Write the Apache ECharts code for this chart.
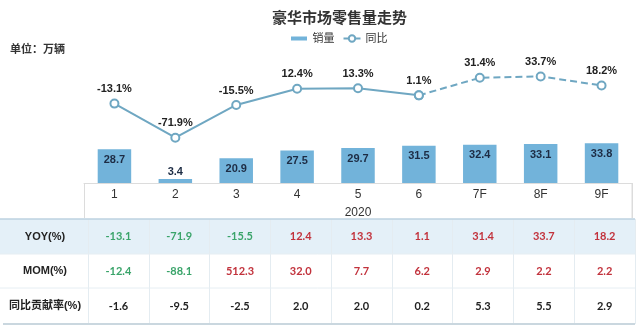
<!DOCTYPE html>
<html>
<head>
<meta charset="utf-8">
<script src="https://cdn.jsdelivr.net/npm/echarts@6/dist/echarts.min.js"></script>
<style>
  html, body { margin: 0; padding: 0; background: #fff; }
  #chart { width: 640px; height: 330px; }
</style>
</head>
<body>
<div id="chart"></div>
<script>
// Months of 2020; 7F-9F are forecasts
const months = ['1', '2', '3', '4', '5', '6', '7F', '8F', '9F'];
const actualCount = 6;
// Retail sales, 10k units
const sales = [28.7, 3.4, 20.9, 27.5, 29.7, 31.5, 32.4, 33.1, 33.8];
// Year-on-year change, %
const yoy = [-13.1, -71.9, -15.5, 12.4, 13.3, 1.1, 31.4, 33.7, 18.2];
// Month-on-month change, %
const mom = [-12.4, -88.1, 512.3, 32.0, 7.7, 6.2, 2.9, 2.2, 2.2];
// Contribution to YoY growth, %
const contrib = [-1.6, -9.5, -2.5, 2.0, 2.0, 0.2, 5.3, 5.5, 2.9];
const rowNames = ['YOY(%)', 'MOM(%)', '同比贡献率(%)'];
const yearLabel = '2020';

const FONT = "'Liberation Sans','Noto Sans CJK SC',sans-serif";
const TFONT = "Lato,'Noto Sans CJK SC',sans-serif";
const BAR = '#72b3da';
const LINE = '#6fa7c2';

const chart = echarts.init(document.getElementById('chart'), null, { renderer: 'canvas' });

const solidYoy = yoy.map((v, i) => (i < actualCount ? v : null));
const dashYoy = yoy.map((v, i) => (i >= actualCount - 1 ? v : null));

// table rows: grid geometry per row
const rows = [
  { values: yoy, colored: true, top: 219, height: 35 },
  { values: mom, colored: true, top: 254, height: 34 },
  { values: contrib, colored: false, top: 288, height: 36 }
];

const signColor = (v) => (v < 0 ? '#3aa46a' : '#c2323c');

const grids = [{ left: 84, right: 8, top: 38, height: 145 }];
const xAxes = [{
  type: 'category',
  gridIndex: 0,
  data: months,
  axisLine: { show: true, lineStyle: { color: '#dcdcdc', width: 1 } },
  axisTick: { show: true, interval: (i) => i === 0, length: 35, lineStyle: { color: '#dcdcdc' } },
  axisLabel: { color: '#333', fontSize: 12, fontFamily: FONT, margin: 6 },
  name: yearLabel,
  nameLocation: 'middle',
  nameGap: 24,
  nameTextStyle: { color: '#333', fontSize: 12, fontFamily: FONT }
}];
const yAxes = [
  { type: 'value', gridIndex: 0, min: 0, max: 123, show: false },
  { type: 'value', gridIndex: 0, min: -150, max: 100, show: false }
];

rows.forEach((r, k) => {
  grids.push({ left: 88, right: 5, top: r.top, height: r.height });
  xAxes.push({
    type: 'category',
    gridIndex: k + 1,
    data: months,
    position: 'bottom',
    axisLine: { show: false },
    axisTick: { show: true, inside: true, length: r.height, lineStyle: { color: '#e4ecf1' } },
    axisLabel: {
      inside: true,
      margin: Math.round(r.height / 2) - 6,
      interval: 0,
      fontSize: 11,
      fontWeight: 'bold',
      fontFamily: TFONT,
      formatter: (v, i) => r.values[i].toFixed(1),
      color: (v, i) => (r.colored ? signColor(r.values[i]) : '#222')
    }
  });
  yAxes.push({
    type: 'category',
    gridIndex: k + 1,
    data: [rowNames[k]],
    axisLine: { show: false },
    axisTick: { show: false },
    axisLabel: {
      align: 'center',
      margin: 43,
      fontSize: 11,
      fontWeight: 'bold',
      color: '#222',
      fontFamily: FONT
    }
  });
});

const option = {
  backgroundColor: '#fff',
  animation: false,
  textStyle: { fontFamily: FONT },
  title: [
    { text: '豪华市场零售量走势', left: 267, top: 6,
      textStyle: { fontSize: 15, fontWeight: 'bold', color: '#333', fontFamily: FONT } },
    { text: '单位：万辆', left: 5, top: 39,
      textStyle: { fontSize: 11, fontWeight: 'bold', color: '#333', fontFamily: FONT } }
  ],
  legend: {
    left: 286,
    top: 28,
    itemWidth: 17,
    itemHeight: 8,
    itemGap: 8,
    textStyle: { fontSize: 11, color: '#333', fontFamily: FONT },
    data: [
      { name: '销量', icon: 'path://M0,0h16v4h-16z M0,-2L0,6' },
      { name: '同比' }
    ]
  },
  graphic: [
    { type: 'rect', z: -10, shape: { x: 0, y: 219, width: 635, height: 35 }, style: { fill: '#e4f0f8' } },
    { type: 'line', z: 10, shape: { x1: 0, y1: 219, x2: 635, y2: 219 }, style: { stroke: '#bcd2e1', lineWidth: 1.5 } },
    { type: 'line', z: 10, shape: { x1: 0, y1: 254, x2: 635, y2: 254 }, style: { stroke: '#e6eef3', lineWidth: 1 } },
    { type: 'line', z: 10, shape: { x1: 0, y1: 288, x2: 635, y2: 288 }, style: { stroke: '#e6eef3', lineWidth: 1 } },
    { type: 'line', z: 10, shape: { x1: 3, y1: 324, x2: 635, y2: 324 }, style: { stroke: '#cad7df', lineWidth: 2 } },
    { type: 'line', z: 10, shape: { x1: 632, y1: 183, x2: 632, y2: 218 }, style: { stroke: '#dcdcdc', lineWidth: 1 } }
  ],
  grid: grids,
  xAxis: xAxes,
  yAxis: yAxes,
  series: [
    {
      name: '销量',
      type: 'bar',
      xAxisIndex: 0,
      yAxisIndex: 0,
      barWidth: '55%',
      itemStyle: { color: BAR },
      data: sales.map((v) => ({
        value: v,
        label: { position: v < 10 ? 'top' : 'insideTop', distance: v < 10 ? 2 : 5 }
      })),
      label: {
        show: true,
        fontSize: 11,
        fontWeight: 'bold',
        color: '#1d2c44',
        fontFamily: FONT,
        formatter: (p) => p.value.toFixed(1)
      }
    },
    {
      name: '同比',
      type: 'line',
      xAxisIndex: 0,
      yAxisIndex: 1,
      data: solidYoy,
      symbol: 'emptyCircle',
      symbolSize: 8,
      lineStyle: { color: LINE, width: 2 },
      itemStyle: { color: LINE, borderColor: LINE, borderWidth: 1 },
      label: {
        show: true,
        position: 'top',
        distance: 4,
        fontSize: 11,
        fontWeight: 'bold',
        color: '#222',
        fontFamily: FONT,
        formatter: (p) => p.value.toFixed(1) + '%'
      },
      z: 5
    },
    {
      name: '同比（预测）',
      type: 'line',
      xAxisIndex: 0,
      yAxisIndex: 1,
      data: dashYoy,
      symbol: 'emptyCircle',
      symbolSize: 8,
      lineStyle: { color: LINE, width: 2, type: [7, 4] },
      itemStyle: { color: LINE, borderColor: LINE, borderWidth: 1 },
      label: {
        show: true,
        position: 'top',
        distance: 4,
        fontSize: 11,
        fontWeight: 'bold',
        color: '#222',
        fontFamily: FONT,
        formatter: (p) => (p.dataIndex < actualCount ? '' : p.value.toFixed(1) + '%')
      },
      z: 5
    }
  ]
};

chart.setOption(option);
</script>
</body>
</html>
